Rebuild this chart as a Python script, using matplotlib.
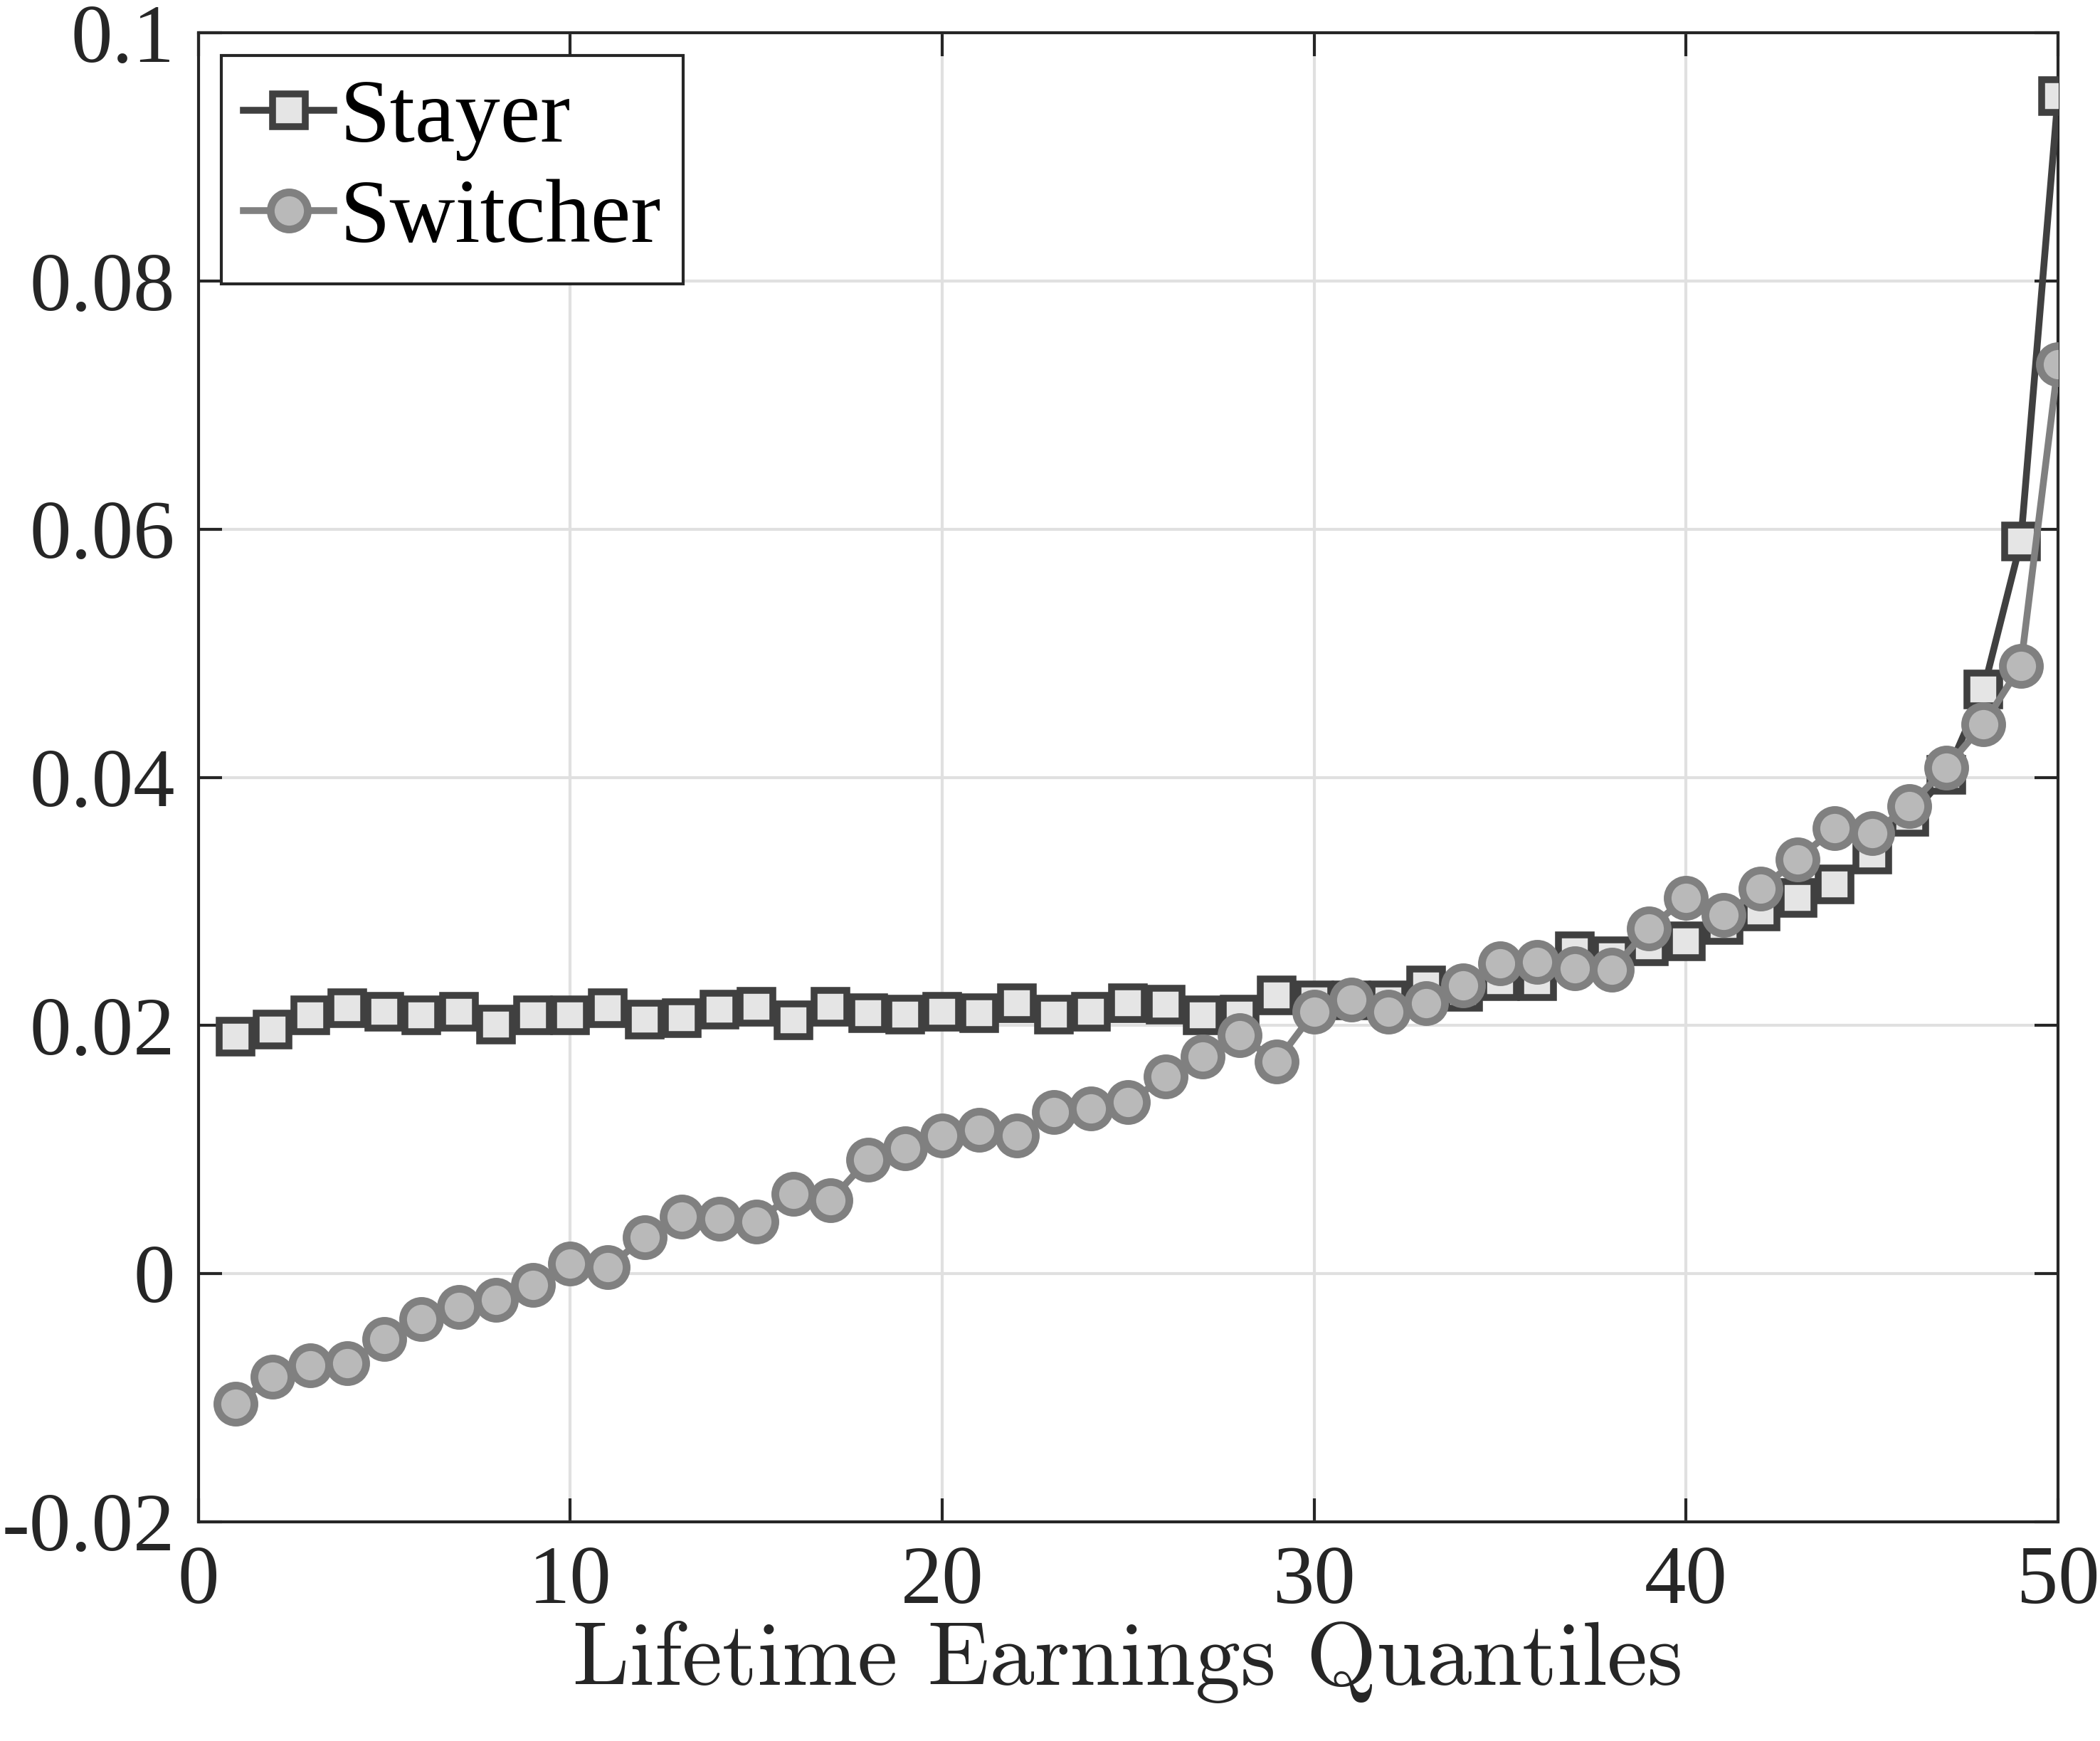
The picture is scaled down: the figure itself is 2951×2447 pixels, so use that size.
import matplotlib
matplotlib.use("Agg")
import matplotlib.pyplot as plt
import numpy as np

plt.rcParams['font.family'] = ['Liberation Serif', 'DejaVu Serif']
plt.rcParams['axes.unicode_minus'] = False

quantiles = np.arange(1, 51)

stayer = [0.0191, 0.0197, 0.0208, 0.0214, 0.0211, 0.0208, 0.0211, 0.0201, 0.0208, 0.0208,
          0.0214, 0.0205, 0.0206, 0.0213, 0.0215, 0.0204, 0.0215, 0.0210, 0.0209, 0.0211,
          0.0210, 0.0218, 0.0209, 0.0211, 0.0218, 0.0217, 0.0208, 0.0209, 0.0224, 0.0220,
          0.0220, 0.0220, 0.0232, 0.0227, 0.0236, 0.0236, 0.0260, 0.0256, 0.0264, 0.0268,
          0.0281, 0.0292, 0.0303, 0.0314, 0.0338, 0.0368, 0.0402, 0.0471, 0.0590, 0.0949]

switcher = [-0.0105, -0.0083, -0.0074, -0.0072, -0.0053, -0.0037, -0.0027, -0.0021, -0.0009, 0.0008,
            0.0005, 0.0029, 0.0046, 0.0044, 0.0042, 0.0064, 0.0059, 0.0092, 0.0101, 0.0111,
            0.0116, 0.0111, 0.0130, 0.0133, 0.0138, 0.0159, 0.0175, 0.0192, 0.0171, 0.0211,
            0.0221, 0.0211, 0.0218, 0.0232, 0.0250, 0.0251, 0.0246, 0.0245, 0.0278, 0.0303,
            0.0289, 0.0310, 0.0334, 0.0359, 0.0355, 0.0377, 0.0408, 0.0443, 0.0490, 0.0733]

xticks = [0, 10, 20, 30, 40, 50]
yticks = [-0.02, 0, 0.02, 0.04, 0.06, 0.08, 0.1]
ytick_labels = ['-0.02', '0', '0.02', '0.04', '0.06', '0.08', '0.1']

fig = plt.figure(figsize=(2951 / 300, 2447 / 300), dpi=300)
ax = fig.add_axes([0.0945, 0.126, 0.8855, 0.855])

ax.plot(quantiles, stayer, color='#404040', linewidth=2.3, marker='s', markersize=11,
        markerfacecolor='#e5e5e5', markeredgecolor='#404040', markeredgewidth=2.3,
        label='Stayer', zorder=3)
ax.plot(quantiles, switcher, color='#808080', linewidth=2.3, marker='o', markersize=12.5,
        markerfacecolor='#b9b9b9', markeredgecolor='#808080', markeredgewidth=2.6,
        label='Switcher', zorder=4)

ax.set_xlim(0, 50)
ax.set_ylim(-0.02, 0.1)
ax.set_xticks(xticks)
ax.set_yticks(yticks)
ax.set_yticklabels(ytick_labels)
ax.tick_params(direction='in', top=True, right=True, labelsize=28, length=8, width=1.0,
               colors='#262626', pad=8)
ax.grid(True, color='#e0e0e0', linewidth=1.0)
ax.set_axisbelow(True)
for s in ax.spines.values():
    s.set_color('#262626')
    s.set_linewidth(1.0)

ax.set_xlabel('Lifetime Earnings Quantiles', fontsize=30.5, family='cmr10',
              color='#262626', labelpad=0)

leg = ax.legend(loc='upper left', fontsize=30.5, fancybox=False, framealpha=1,
                edgecolor='#262626', handlelength=1.0, handletextpad=0.06,
                borderpad=0.25, labelspacing=0.2, borderaxespad=0.25)
leg.get_frame().set_linewidth(1.0)
for t in leg.get_texts():
    t.set_color('black')

fig.savefig('out.png', dpi=300)
